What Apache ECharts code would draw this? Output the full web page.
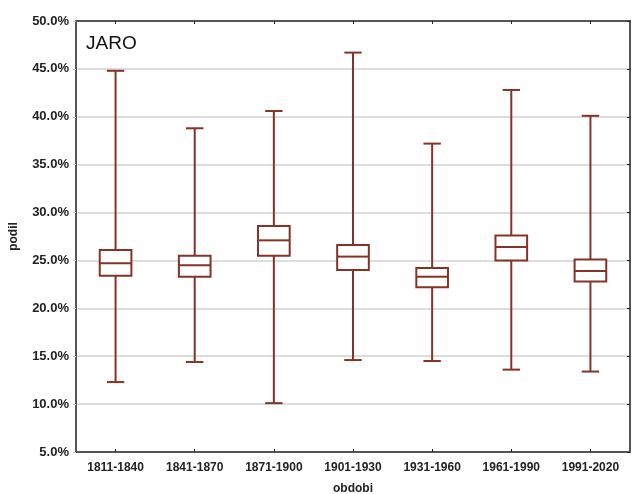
<!DOCTYPE html>
<html>
<head>
<meta charset="utf-8">
<title>JARO</title>
<script src="https://cdn.jsdelivr.net/npm/echarts@6/dist/echarts.min.js"></script>
<style>
  html, body { margin: 0; padding: 0; background: #fff; }
  #main { width: 632px; height: 494px; }
</style>
</head>
<body>
<div id="main"></div>
<script>
  // obdobi (x categories) and the box statistics in percent
  const categories = ['1811-1840', '1841-1870', '1871-1900', '1901-1930', '1931-1960', '1961-1990', '1991-2020']
  const whiskerLow = [12.3, 14.4, 10.1, 14.6, 14.5, 13.6, 13.4]
  const q1 = [23.4, 23.3, 25.5, 24.0, 22.2, 25.0, 22.8]
  const median = [24.7, 24.5, 27.1, 25.4, 23.3, 26.4, 23.9]
  const q3 = [26.1, 25.5, 28.6, 26.6, 24.2, 27.6, 25.1]
  const whiskerHigh = [44.8, 38.8, 40.6, 46.7, 37.2, 42.8, 40.1]

  const boxColor = '#843326'
  const frameColor = '#555'
  const font = '"Liberation Sans", Arial, sans-serif'

  const boxData = categories.map((c, i) => [i, whiskerLow[i], q1[i], median[i], q3[i], whiskerHigh[i]])

  let chart = echarts.init(document.getElementById('main'))

  function renderBox(params, api) {
    const idx = api.value(0)
    const band = api.size([1, 0])[0]
    const half = band * 0.2
    const cap = band * 0.11
    const pLow = api.coord([idx, api.value(1)])
    const pQ1 = api.coord([idx, api.value(2)])
    const pMed = api.coord([idx, api.value(3)])
    const pQ3 = api.coord([idx, api.value(4)])
    const pHigh = api.coord([idx, api.value(5)])
    const cx = pMed[0]
    const style = { stroke: boxColor, lineWidth: 2, fill: null }
    const line = (x1, y1, x2, y2) => ({ type: 'line', shape: { x1, y1, x2, y2 }, style })
    return {
      type: 'group',
      children: [
        line(cx, pHigh[1], cx, pQ3[1]),
        line(cx, pQ1[1], cx, pLow[1]),
        line(cx - cap, pHigh[1], cx + cap, pHigh[1]),
        line(cx - cap, pLow[1], cx + cap, pLow[1]),
        {
          type: 'rect',
          shape: { x: cx - half, y: pQ3[1], width: half * 2, height: pQ1[1] - pQ3[1] },
          style: { stroke: boxColor, lineWidth: 2, fill: '#fff' }
        },
        line(cx - half, pMed[1], cx + half, pMed[1])
      ]
    }
  }

  let option = {
    animation: false,
    backgroundColor: '#fff',
    grid: { left: 76, right: 2, top: 21, bottom: 42, containLabel: false, outerBoundsMode: 'none' },
    graphic: [
      {
        type: 'text',
        left: 86,
        top: 34,
        style: { text: 'JARO', font: '19px ' + font, fill: '#111' }
      }
    ],
    xAxis: [
      {
        type: 'category',
        data: categories,
        boundaryGap: true,
        name: 'obdobi',
        nameLocation: 'middle',
        nameGap: 31,
        nameTextStyle: { fontFamily: font, fontWeight: 'bold', fontSize: 12, color: '#222' },
        axisLine: { lineStyle: { color: frameColor, width: 2 } },
        axisTick: { show: true, inside: true, alignWithLabel: true, length: 3, lineStyle: { color: '#222' } },
        axisLabel: { fontFamily: font, fontWeight: 'bold', fontSize: 12, color: '#222', margin: 10, interval: 0 },
        splitLine: { show: false }
      },
      {
        type: 'category',
        data: categories,
        position: 'top',
        boundaryGap: true,
        axisLine: { lineStyle: { color: frameColor, width: 2 } },
        axisTick: { show: true, inside: true, alignWithLabel: true, length: 3, lineStyle: { color: '#222' } },
        axisLabel: { show: false }
      }
    ],
    yAxis: [
      {
        type: 'value',
        min: 5,
        max: 50,
        interval: 5,
        name: 'podil',
        nameLocation: 'middle',
        nameGap: 56,
        nameTextStyle: { fontFamily: font, fontWeight: 'bold', fontSize: 12, color: '#222' },
        axisLine: { show: true, lineStyle: { color: frameColor, width: 2 } },
        axisTick: { show: true, inside: false, length: 3, lineStyle: { color: '#ccc' } },
        axisLabel: {
          fontFamily: font,
          fontWeight: 'bold',
          fontSize: 13,
          color: '#222',
          margin: 7,
          formatter: (v) => v.toFixed(1) + '%'
        },
        splitLine: { show: true, lineStyle: { color: '#d2d2d2', width: 1.5 } }
      },
      {
        type: 'value',
        min: 5,
        max: 50,
        interval: 5,
        position: 'right',
        axisLine: { show: true, lineStyle: { color: frameColor, width: 2 } },
        axisTick: { show: true, inside: true, length: 3, lineStyle: { color: '#222' } },
        axisLabel: { show: false },
        splitLine: { show: false }
      }
    ],
    series: [
      {
        type: 'custom',
        xAxisIndex: 0,
        yAxisIndex: 0,
        renderItem: renderBox,
        encode: { x: 0, y: [1, 2, 3, 4, 5] },
        data: boxData,
        z: 5
      }
    ]
  }
  option && chart.setOption(option)
</script>
</body>
</html>
